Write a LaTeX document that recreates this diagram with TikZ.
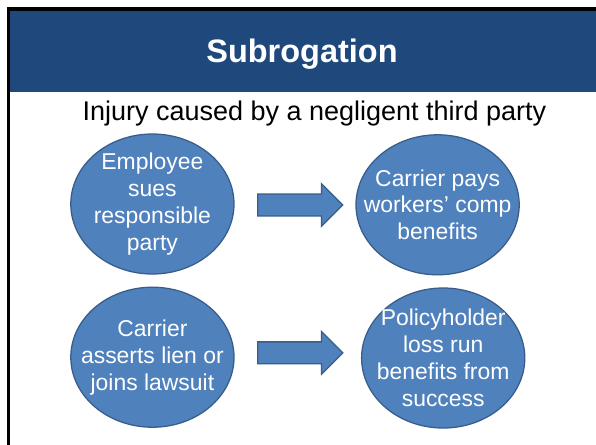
\documentclass[tikz,border=0pt]{standalone}
\usepackage{fontspec}
\setmainfont{Liberation Sans}
\usepackage{xcolor}
\definecolor{headblue}{RGB}{31,73,125}
\definecolor{bubblefill}{RGB}{79,129,189}
\definecolor{bubbleedge}{RGB}{56,93,138}
\usetikzlibrary{shapes.geometric, shapes.arrows}

\begin{document}
\begin{tikzpicture}[
  bubble/.style={ellipse, fill=bubblefill, draw=bubbleedge, line width=0.9pt,
                 minimum width=4.08cm, minimum height=3.5cm, inner sep=-1cm,
                 align=center, text=white, font=\fontsize{16.3pt}{19.2pt}\selectfont},
  bigarrow/.style={single arrow, fill=bubblefill, draw=bubbleedge, line width=0.9pt,
                   minimum height=2.125cm, single arrow head extend=0.26cm,
                   inner xsep=0pt, inner ysep=0.2575cm, anchor=tail}
]
  \useasboundingbox (0,0) rectangle (14.9,-11.1);
  \clip (0,0) rectangle (14.9,-11.1);

  % Slide frame and header bar
  \fill[black] (0.167,-0.183) rectangle (15.5,-11.5);
  \fill[white] (0.25,-0.267) rectangle (15.5,-11.5);
  \fill[headblue] (0.25,-0.267) rectangle (15.5,-2.29);
  \node[anchor=base, text=white, font=\fontsize{23.1pt}{27pt}\selectfont\bfseries] (title)
    at (7.55,-1.55) {Subrogation};
  \node[anchor=base, font=\fontsize{19.2pt}{23pt}\selectfont] (cause)
    at (7.86,-3.0) {Injury caused by a negligent third party};

  % Ellipses
  \node[bubble] (sues)   at (3.81,-5.1)   {Employee\\sues\\responsible\\party};
  \node[bubble] (pays)   at (10.94,-5.12) {Carrier pays\\workers’ comp\\benefits};
  \node[bubble] (lien)   at (3.81,-8.93)  {Carrier\\asserts lien or\\joins lawsuit};
  \node[bubble] (lossrun) at (11.08,-8.95) {Policyholder\\loss run\\benefits from\\success};

  % Block arrows
  \node[bigarrow] (arrowtop) at (6.43,-5.125) {};
  \node[bigarrow] (arrowbot) at (6.43,-8.82) {};
\end{tikzpicture}
\end{document}
